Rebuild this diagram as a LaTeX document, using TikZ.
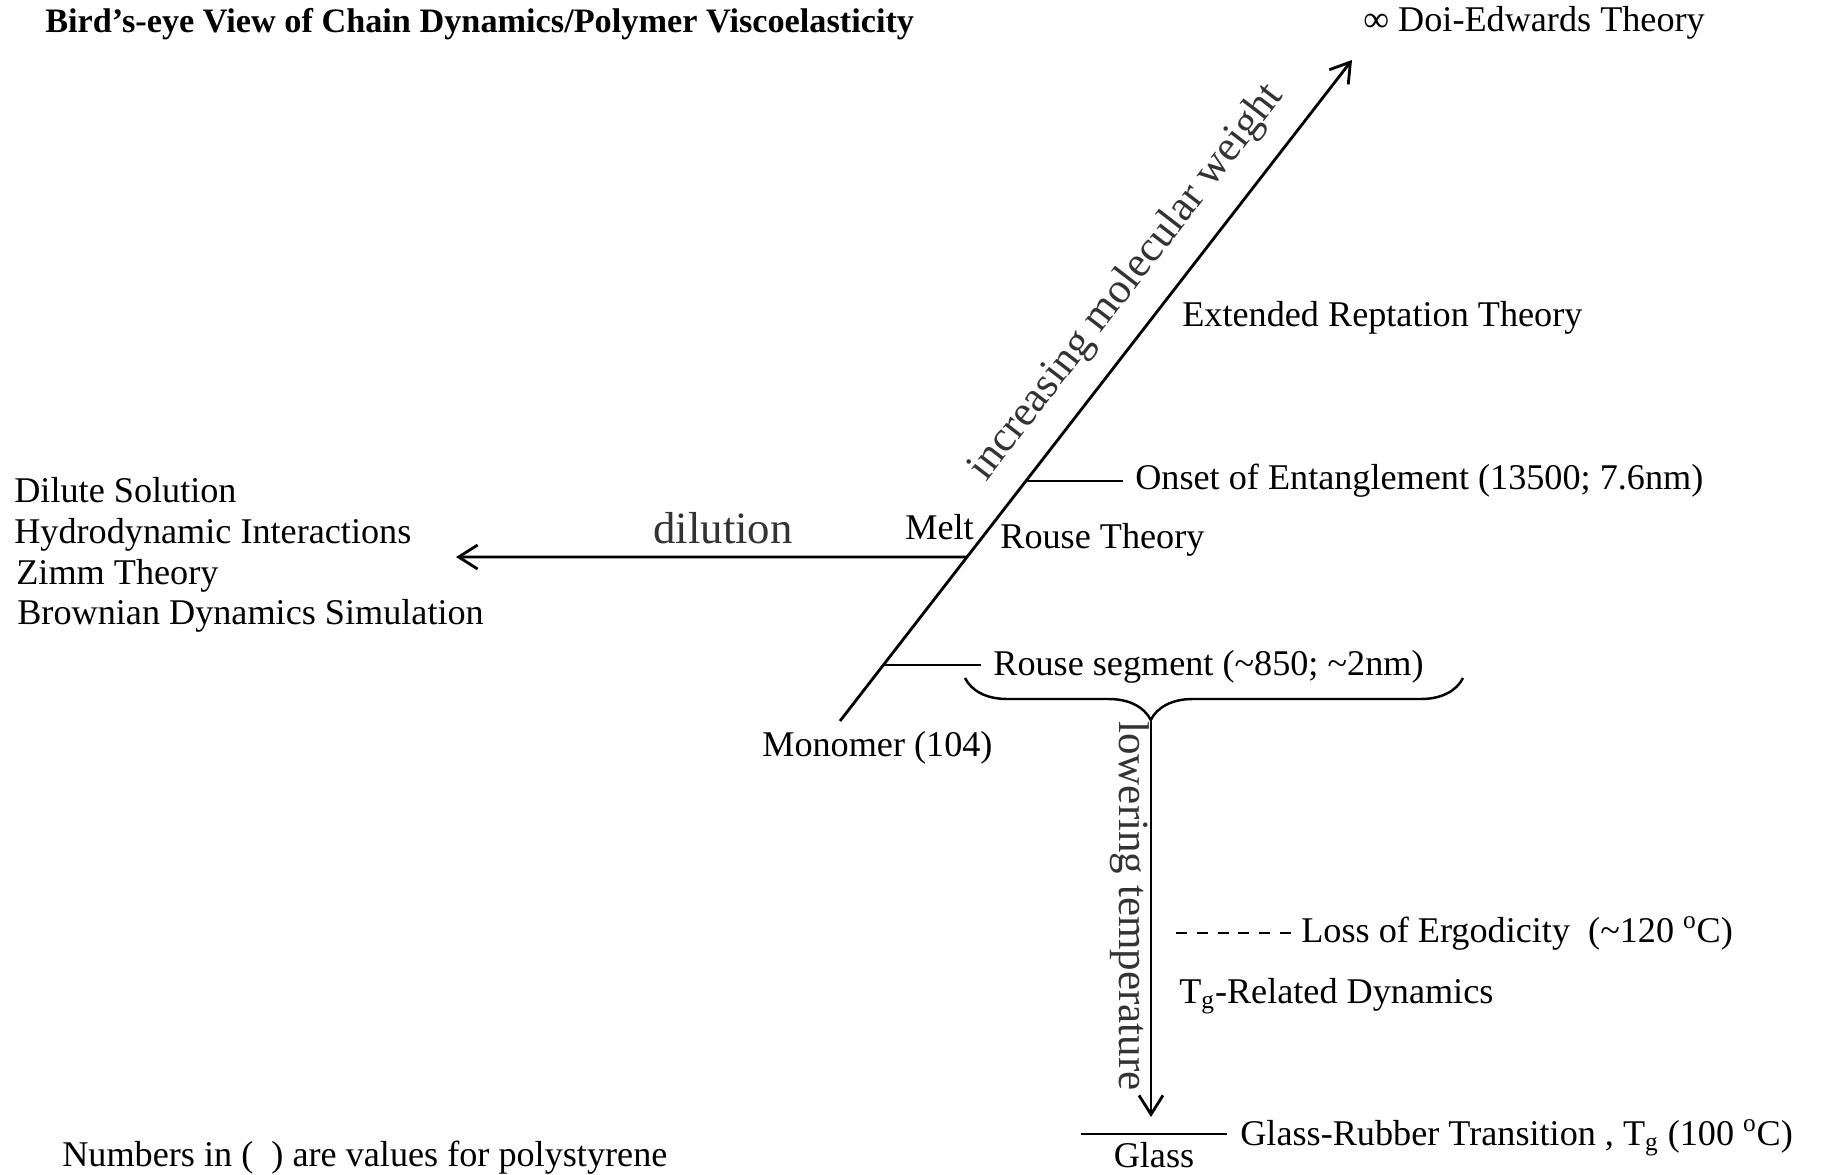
\documentclass[tikz,border=0pt]{standalone}
\usepackage{fontspec}
\setmainfont{Liberation Serif}
\usetikzlibrary{arrows.meta, positioning, calc, decorations.pathreplacing}

\begin{document}
\begin{tikzpicture}[x=0.02cm, y=-0.02cm,
    txt/.style={font=\fontsize{20.6}{24}\selectfont, inner sep=0pt, anchor=base west},
    slanted/.style={font=\fontsize{24.5}{28}\selectfont, text=black!80, inner sep=0pt},
    axis/.style={line width=1.6pt, -{Straight Barb[length=3.8mm, width=4.8mm, line width=1.6pt]}},
    tick/.style={line width=1.2pt, shorten >=0.24cm}]
    \useasboundingbox (0,0) rectangle (1822,1175);
    % Title
    \node[txt, font=\fontsize{19.5}{24}\selectfont\bfseries] (title) at (45,33) {Bird's-eye View of Chain Dynamics/Polymer Viscoelasticity};
    % Molecular weight axis
    \coordinate (mono) at (840,721);
    \coordinate (inf) at (1352,60);
    \draw[axis] (mono) -- (inf);
    \node[slanted, rotate=52.4] (mw) at (1127,283) {increasing molecular weight};
    \node[txt] (de) at (1363,32) {∞ Doi-Edwards Theory};
    \node[txt] (ert) at (1182,327) {Extended Reptation Theory};
    \node[txt] (onset) at (1135,490) {Onset of Entanglement (13500; 7.6nm)};
    \coordinate (ent) at ($(mono)!0.363!(inf)$);
    \draw[tick] (ent) -- (ent -| onset.west);
    \node[txt] (meltlbl) at (905,540) {Melt};
    \node[txt] (rouse) at (1000,548) {Rouse Theory};
    \node[txt] (seg) at (993,675) {Rouse segment (\textasciitilde850; \textasciitilde2nm)};
    \coordinate (rseg) at ($(mono)!0.0847!(inf)$);
    \draw[tick] (rseg) -- (rseg -| seg.west);
    \node[txt] (monolbl) at (762,756) {Monomer (104)};
    % Dilution
    \coordinate (melt) at ($(mono)!0.248!(inf)$);
    \coordinate (dilend) at (456,557);
    \draw[axis] (melt) -- (dilend);
    \node[txt, font=\fontsize{25.5}{30}\selectfont, text=black!80] (dil) at (653,543) {dilution};
    \node[txt] (dilute) at (14,502) {Dilute Solution};
    \node[txt] (hydro) at (14,543) {Hydrodynamic Interactions};
    \node[txt] (zimm) at (16,584) {Zimm Theory};
    \node[txt] (brown) at (17,624) {Brownian Dynamics Simulation};
    % Temperature
    \draw[line width=1.4pt, decorate, decoration={brace, amplitude=0.84cm, aspect=0.627}] (1463,678) -- (965,678);
    \coordinate (cool) at (1151,720);
    \coordinate (glass) at (1151,1117);
    \draw[axis] (cool) -- (glass);
    \node[slanted, rotate=-90] (temp) at (1130,906) {lowering temperature};
    \coordinate (ergostart) at (1176,933);
    \node[txt] (ergo) at (1301,942) {Loss of Ergodicity\ \ (\textasciitilde120 \textsuperscript{o}C)};
    \draw[line width=1pt, dash pattern=on 0.22cm off 0.196cm, shorten >=0.2cm] (ergostart) -- (ergostart -| ergo.west);
    \node[txt] (tgdyn) at (1179,1003) {T\textsubscript{g}-Related Dynamics};
    \coordinate (gl) at (1081,1134);
    \coordinate (gr) at (1227,1134);
    \draw[line width=1.2pt] (gl) -- (gr);
    \node[txt, anchor=base] (glasslbl) at (1154,1167) {Glass};
    \node[txt] (grt) at (1240,1145) {Glass-Rubber Transition , T\textsubscript{g} (100 \textsuperscript{o}C)};
    % Note
    \node[txt] (note) at (62,1166) {Numbers in (\ \ ) are values for polystyrene};
\end{tikzpicture}
\end{document}
